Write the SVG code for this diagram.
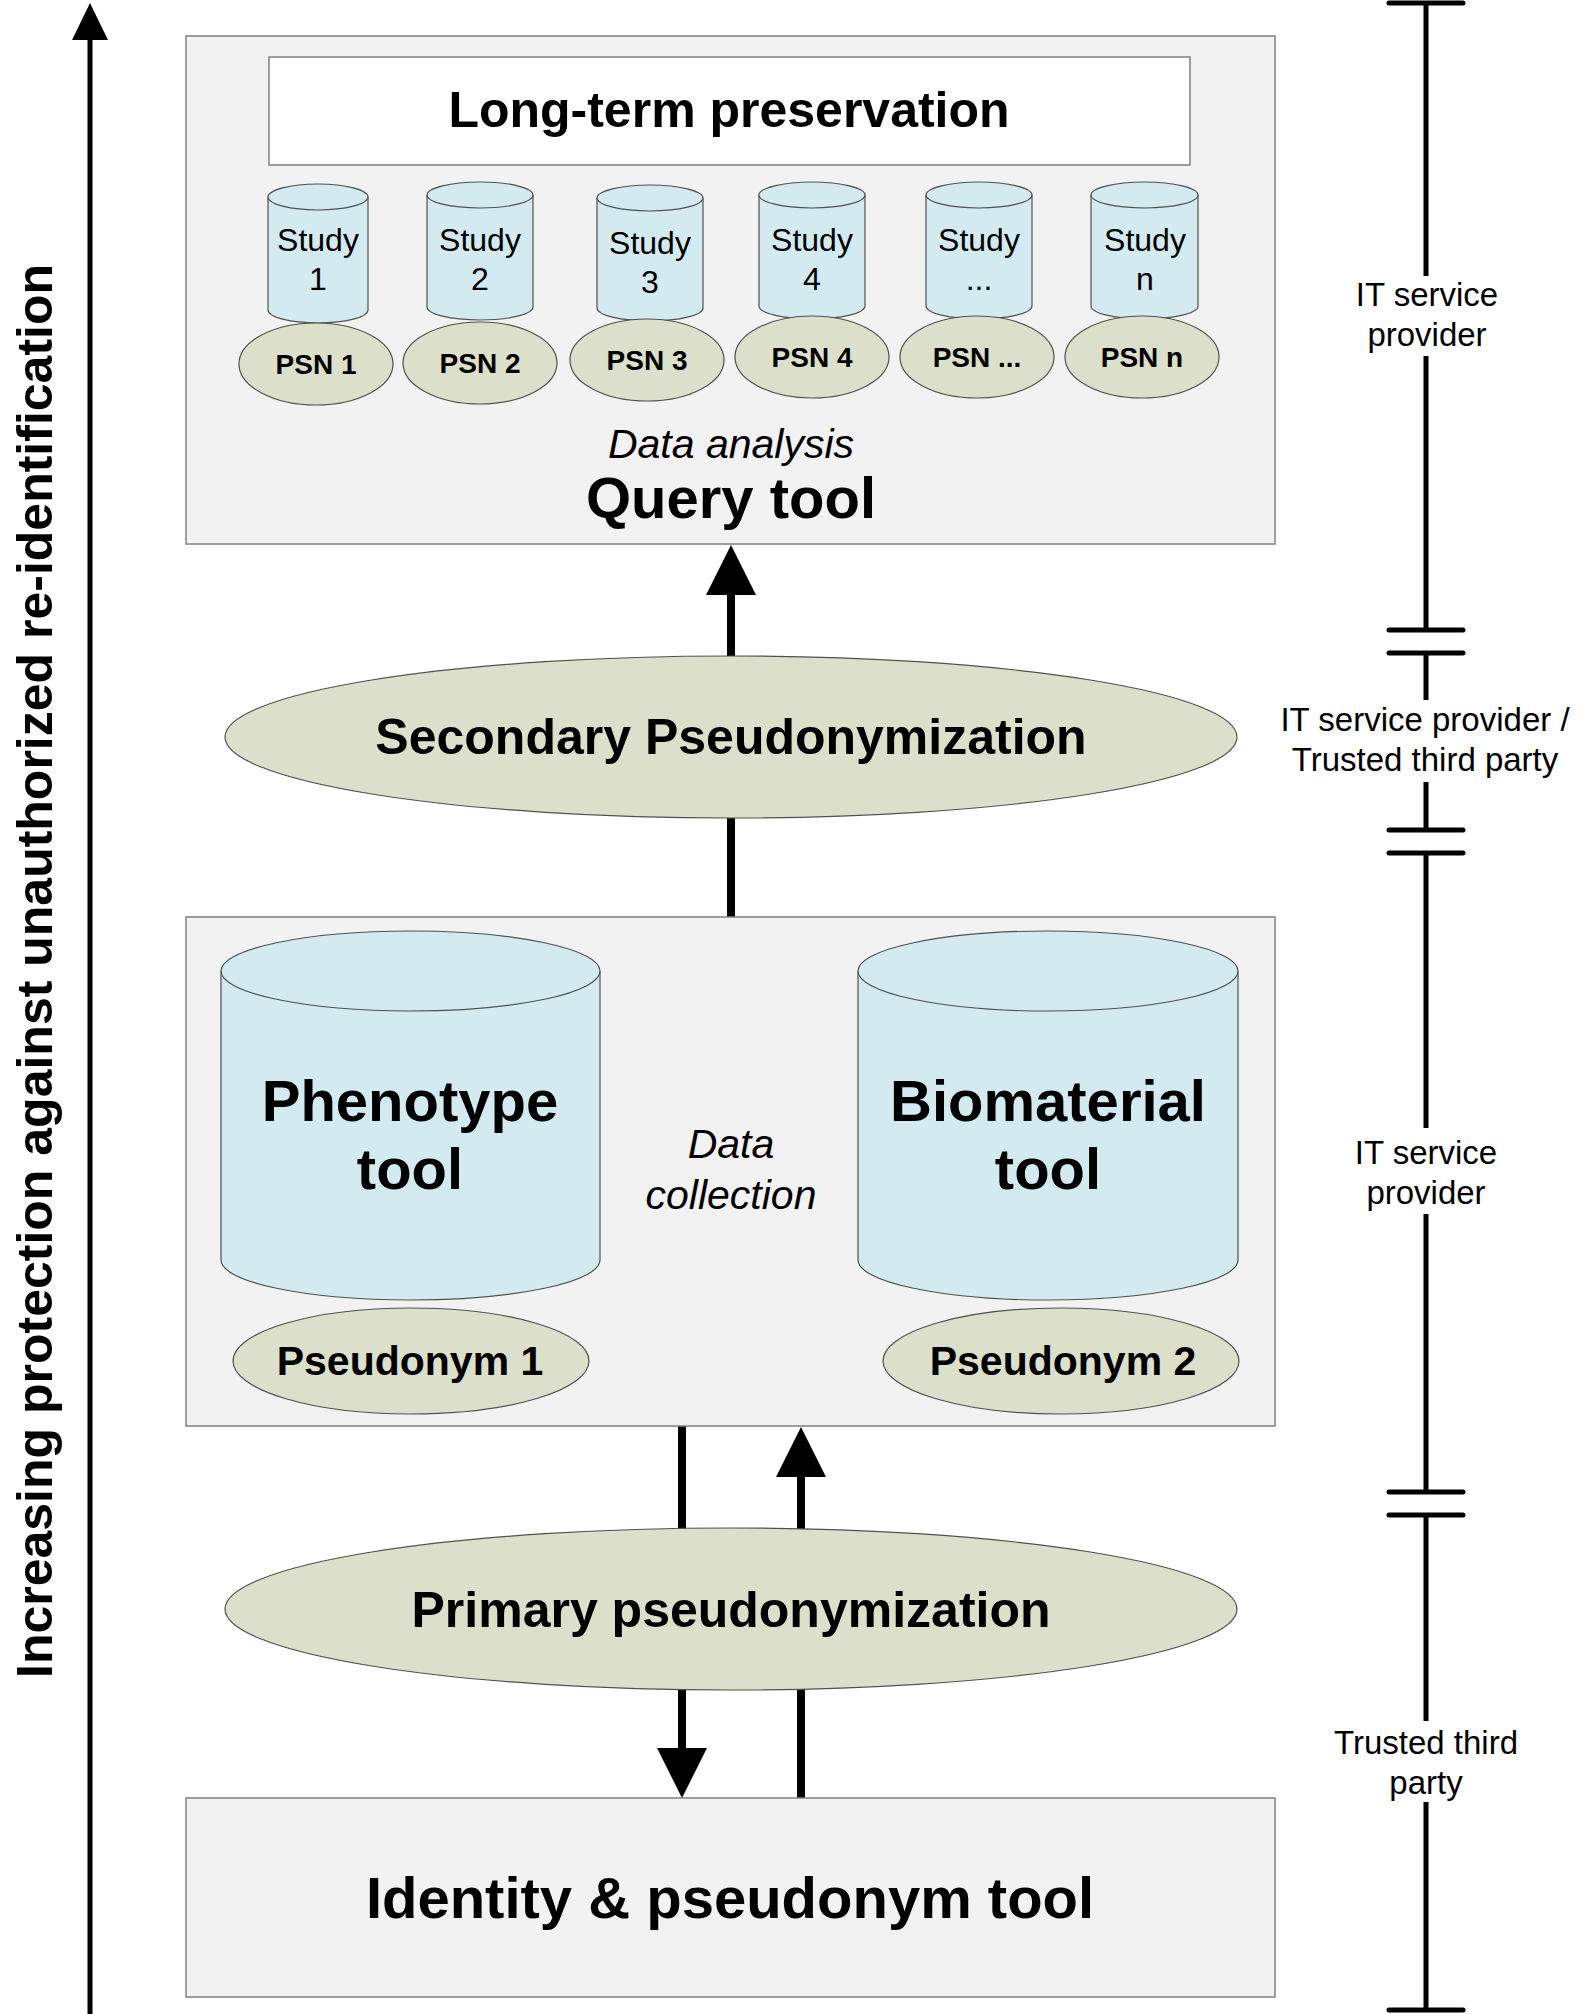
<svg xmlns="http://www.w3.org/2000/svg" width="1582" height="2014" viewBox="0 0 1582 2014">
<style>
  text { font-family: "Liberation Sans", Arial, sans-serif; fill: #000; }
  .box { fill: #f2f2f2; stroke: #808080; stroke-width: 1.5; }
  .wbox { fill: #ffffff; stroke: #808080; stroke-width: 1.5; }
  .cyl { fill: #d3eaf0; stroke: #505050; stroke-width: 1.2; }
  .ell { fill: #dce0cb; stroke: #505050; stroke-width: 1.2; }
  .conn { stroke: #000; stroke-width: 8; fill: none; }
  .head { fill: #000; }
  .tl { stroke: #000; stroke-width: 5; fill: none; }
  .tick { stroke: #000; stroke-width: 5; stroke-linecap: round; fill: none; }
  .b { font-weight: bold; }
  .it { font-style: italic; }
  .mid { text-anchor: middle; }
  .study { font-size: 32px; text-anchor: middle; }
  .psn { font-size: 28px; font-weight: bold; text-anchor: middle; }
  .lbl { font-size: 33px; text-anchor: middle; }
</style>

<g id="connectors">
  <line class="tl" x1="90" y1="38" x2="90" y2="2014"/>
  <polygon class="head" points="90,3 72,40 108,40"/>
  <line class="conn" x1="731" y1="917" x2="731" y2="593"/>
  <polygon class="head" points="731,545 706,595 756,595"/>
  <line class="conn" x1="682" y1="1426" x2="682" y2="1750"/>
  <polygon class="head" points="682,1798 657,1748 707,1748"/>
  <line class="conn" x1="801" y1="1798" x2="801" y2="1475"/>
  <polygon class="head" points="801,1427 776,1477 826,1477"/>
</g>

<g id="axis-label">
  <text class="b mid" font-size="50" transform="translate(52,971) rotate(-90)">Increasing protection against unauthorized re-identification</text>
</g>

<g id="query-tool">
  <rect class="box" x="186" y="36" width="1089" height="508"/>
  <text class="it mid" x="731" y="458" font-size="41">Data analysis</text>
  <text class="b mid" x="731" y="518" font-size="58">Query tool</text>
</g>

<g id="long-term-preservation">
  <rect class="wbox" x="269" y="57" width="921" height="108"/>
  <text class="b mid" x="729" y="127" font-size="50">Long-term preservation</text>
</g>

<g id="study-1">
  <path class="cyl" d="M268,197 A50,13 0 0 1 368,197 L368,310 A50,13 0 0 1 268,310 Z"/>
  <path class="cyl" d="M268,197 A50,13 0 0 0 368,197"/>
  <text class="study" x="318" y="251">Study</text>
  <text class="study" x="318" y="290">1</text>
</g>
<g id="study-2">
  <path class="cyl" d="M427,195 A53,13 0 0 1 533,195 L533,307 A53,13 0 0 1 427,307 Z"/>
  <path class="cyl" d="M427,195 A53,13 0 0 0 533,195"/>
  <text class="study" x="480" y="251">Study</text>
  <text class="study" x="480" y="290">2</text>
</g>
<g id="study-3">
  <path class="cyl" d="M597,198 A53,13 0 0 1 703,198 L703,308 A53,13 0 0 1 597,308 Z"/>
  <path class="cyl" d="M597,198 A53,13 0 0 0 703,198"/>
  <text class="study" x="650" y="254">Study</text>
  <text class="study" x="650" y="293">3</text>
</g>
<g id="study-4">
  <path class="cyl" d="M759,195 A53,13 0 0 1 865,195 L865,306 A53,13 0 0 1 759,306 Z"/>
  <path class="cyl" d="M759,195 A53,13 0 0 0 865,195"/>
  <text class="study" x="812" y="251">Study</text>
  <text class="study" x="812" y="290">4</text>
</g>
<g id="study-etc">
  <path class="cyl" d="M926,195 A53,13 0 0 1 1032,195 L1032,306 A53,13 0 0 1 926,306 Z"/>
  <path class="cyl" d="M926,195 A53,13 0 0 0 1032,195"/>
  <text class="study" x="979" y="251">Study</text>
  <text class="study" x="979" y="290">...</text>
</g>
<g id="study-n">
  <path class="cyl" d="M1091,195 A53.5,13 0 0 1 1198,195 L1198,306 A53.5,13 0 0 1 1091,306 Z"/>
  <path class="cyl" d="M1091,195 A53.5,13 0 0 0 1198,195"/>
  <text class="study" x="1145" y="251">Study</text>
  <text class="study" x="1145" y="290">n</text>
</g>

<g id="psn-1"><ellipse class="ell" cx="316" cy="364" rx="77" ry="41"/><text class="psn" x="316" y="374">PSN 1</text></g>
<g id="psn-2"><ellipse class="ell" cx="480" cy="363" rx="77" ry="41"/><text class="psn" x="480" y="373">PSN 2</text></g>
<g id="psn-3"><ellipse class="ell" cx="647" cy="360" rx="77" ry="41"/><text class="psn" x="647" y="370">PSN 3</text></g>
<g id="psn-4"><ellipse class="ell" cx="812" cy="357" rx="77" ry="41"/><text class="psn" x="812" y="367">PSN 4</text></g>
<g id="psn-etc"><ellipse class="ell" cx="977" cy="357" rx="77" ry="41"/><text class="psn" x="977" y="367">PSN ...</text></g>
<g id="psn-n"><ellipse class="ell" cx="1142" cy="357" rx="77" ry="41"/><text class="psn" x="1142" y="367">PSN n</text></g>

<g id="secondary-pseudonymization">
  <ellipse class="ell" cx="731" cy="737" rx="506" ry="81"/>
  <text class="b mid" x="731" y="754" font-size="50">Secondary Pseudonymization</text>
</g>

<g id="data-collection">
  <rect class="box" x="186" y="917" width="1089" height="509"/>
  <text class="it mid" x="731" y="1158" font-size="41">Data</text>
  <text class="it mid" x="731" y="1209" font-size="41">collection</text>
</g>

<g id="phenotype-tool">
  <path class="cyl" d="M221,971 A189.5,40 0 0 1 600,971 L600,1260 A189.5,40 0 0 1 221,1260 Z"/>
  <path class="cyl" d="M221,971 A189.5,40 0 0 0 600,971"/>
  <text class="b mid" x="410" y="1121" font-size="58">Phenotype</text>
  <text class="b mid" x="410" y="1189" font-size="58">tool</text>
</g>

<g id="biomaterial-tool">
  <path class="cyl" d="M858,971 A190,40 0 0 1 1238,971 L1238,1260 A190,40 0 0 1 858,1260 Z"/>
  <path class="cyl" d="M858,971 A190,40 0 0 0 1238,971"/>
  <text class="b mid" x="1048" y="1121" font-size="58">Biomaterial</text>
  <text class="b mid" x="1048" y="1189" font-size="58">tool</text>
</g>

<g id="pseudonym-1">
  <ellipse class="ell" cx="411" cy="1361" rx="178" ry="53"/>
  <text class="b mid" x="410" y="1375" font-size="41">Pseudonym 1</text>
</g>
<g id="pseudonym-2">
  <ellipse class="ell" cx="1061" cy="1361" rx="178" ry="53"/>
  <text class="b mid" x="1063" y="1375" font-size="41">Pseudonym 2</text>
</g>

<g id="primary-pseudonymization">
  <ellipse class="ell" cx="731" cy="1609" rx="506" ry="81"/>
  <text class="b mid" x="731" y="1627" font-size="50">Primary pseudonymization</text>
</g>

<g id="identity-pseudonym-tool">
  <rect class="box" x="186" y="1798" width="1089" height="199"/>
  <text class="b mid" x="730" y="1918" font-size="58">Identity &amp; pseudonym tool</text>
</g>

<g id="responsibility-scale">
  <line class="tl" x1="1426" y1="3" x2="1426" y2="276"/>
  <line class="tl" x1="1426" y1="356" x2="1426" y2="630"/>
  <line class="tl" x1="1426" y1="653" x2="1426" y2="700"/>
  <line class="tl" x1="1426" y1="782" x2="1426" y2="830"/>
  <line class="tl" x1="1426" y1="853" x2="1426" y2="1128"/>
  <line class="tl" x1="1426" y1="1214" x2="1426" y2="1492"/>
  <line class="tl" x1="1426" y1="1515" x2="1426" y2="1721"/>
  <line class="tl" x1="1426" y1="1802" x2="1426" y2="2010"/>
  <line class="tick" x1="1389" y1="3" x2="1463" y2="3"/>
  <line class="tick" x1="1389" y1="630" x2="1463" y2="630"/>
  <line class="tick" x1="1389" y1="653" x2="1463" y2="653"/>
  <line class="tick" x1="1389" y1="830" x2="1463" y2="830"/>
  <line class="tick" x1="1389" y1="853" x2="1463" y2="853"/>
  <line class="tick" x1="1389" y1="1492" x2="1463" y2="1492"/>
  <line class="tick" x1="1389" y1="1515" x2="1463" y2="1515"/>
  <line class="tick" x1="1389" y1="2010" x2="1463" y2="2010"/>
  <text class="lbl" x="1427" y="306">IT service</text>
  <text class="lbl" x="1427" y="346">provider</text>
  <text class="lbl" x="1425" y="731">IT service provider /</text>
  <text class="lbl" x="1425" y="771">Trusted third party</text>
  <text class="lbl" x="1426" y="1164">IT service</text>
  <text class="lbl" x="1426" y="1204">provider</text>
  <text class="lbl" x="1426" y="1754">Trusted third</text>
  <text class="lbl" x="1426" y="1794">party</text>
</g>
</svg>
